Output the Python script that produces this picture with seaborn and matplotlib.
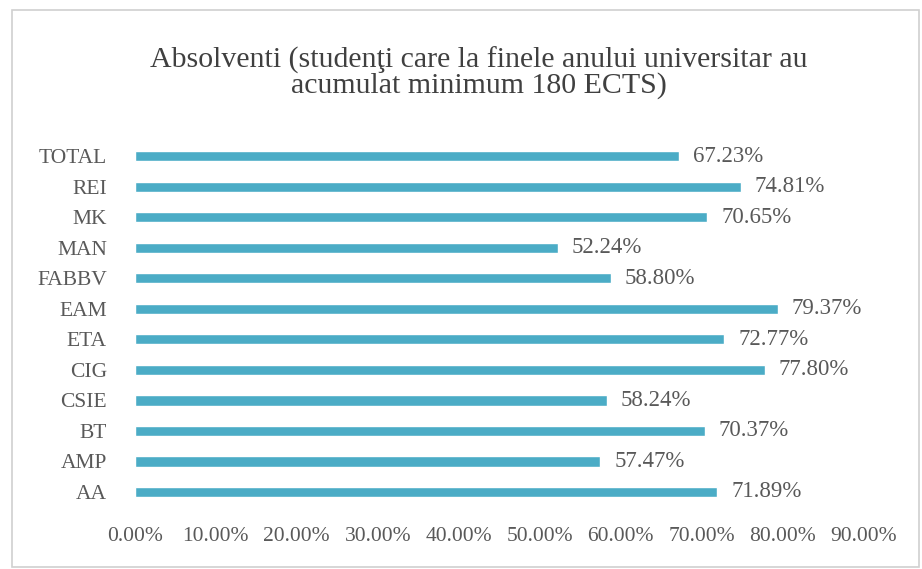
import numpy as np
import pandas as pd
import seaborn as sns
import matplotlib.pyplot as plt
from matplotlib.patches import Rectangle
from matplotlib.ticker import FuncFormatter

# Date
facultati = ["TOTAL", "REI", "MK", "MAN", "FABBV", "EAM", "ETA", "CIG", "CSIE", "BT", "AMP", "AA"]
procente = [67.23, 74.81, 70.65, 52.24, 58.80, 79.37, 72.77, 77.80, 58.24, 70.37, 57.47, 71.89]

df = pd.DataFrame({"Facultate": facultati, "Procent": procente})

sns.set_style("white")
plt.rcParams['font.family'] = ['Liberation Serif', 'DejaVu Serif']

fig = plt.figure(figsize=(9.22, 5.69), dpi=100)
ax = fig.add_axes([0.146, 0.0879, 0.791, 0.664])

sns.barplot(data=df, x="Procent", y="Facultate", color="#4BACC6",
            width=0.33, saturation=1, ax=ax)

# Etichete valori
for cont in ax.containers:
    ax.bar_label(cont, labels=[f"{v:.2f}%" for v in procente],
                 padding=10, fontsize=16.5, color="#595959")

ax.set_xlim(0, 90)
ax.set_ylim(11.885, -0.5)
ax.set_xticks(np.arange(0, 91, 10))
ax.xaxis.set_major_formatter(FuncFormatter(lambda v, p: f"{v:.2f}%"))
ax.tick_params(axis='x', labelsize=15.5, colors="#595959", length=0, pad=6)
ax.tick_params(axis='y', labelsize=15.5, colors="#595959", length=0, pad=20)
ax.set_xlabel("")
ax.set_ylabel("")
sns.despine(ax=ax, left=True, bottom=True)

fig.text(0.519, 0.872, "Absolventi (studenţi care la finele anului universitar au\nacumulat minimum 180 ECTS)",
         ha="center", va="center", fontsize=21.5, color="#404040", linespacing=0.92)

# Chenar grafic
fig.patches.append(Rectangle((0.013, 0.004), 0.984, 0.978, transform=fig.transFigure,
                             fill=False, edgecolor="#D0D0D0", linewidth=1.2))

fig.savefig("out.png", dpi=100)
